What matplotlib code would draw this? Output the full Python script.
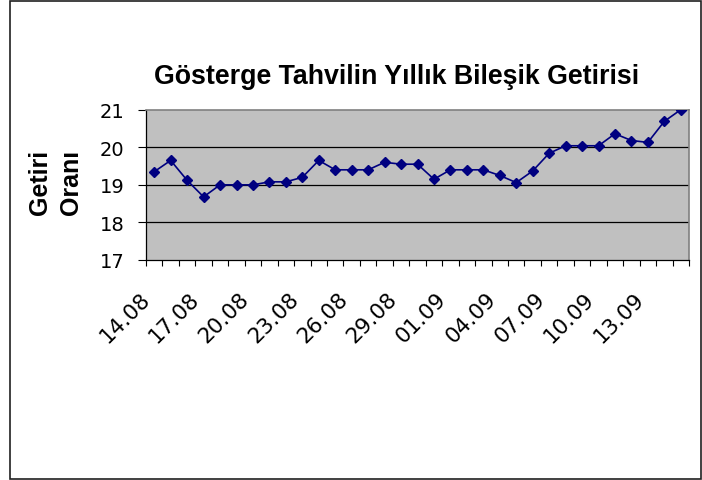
import matplotlib
matplotlib.use("Agg")
import matplotlib.pyplot as plt
from matplotlib.patches import Rectangle
from matplotlib.ticker import FixedLocator, NullFormatter

dates = ["14.08", "15.08", "16.08", "17.08", "18.08", "19.08", "20.08", "21.08",
         "22.08", "23.08", "24.08", "25.08", "26.08", "27.08", "28.08", "29.08",
         "30.08", "31.08", "01.09", "02.09", "03.09", "04.09", "05.09", "06.09",
         "07.09", "08.09", "09.09", "10.09", "11.09", "12.09", "13.09", "14.09",
         "15.09"]
values = [19.35, 19.65, 19.12, 18.68, 19.0, 19.0, 19.0, 19.08, 19.08, 19.2,
          19.65, 19.4, 19.4, 19.4, 19.6, 19.55, 19.55, 19.15, 19.4, 19.4,
          19.4, 19.25, 19.06, 19.37, 19.84, 20.04, 20.04, 20.04, 20.36, 20.18,
          20.13, 20.69, 21.0]
yticks = [17, 18, 19, 20, 21]
label_step = 3

title = "Gösterge Tahvilin Yıllık Bileşik Getirisi"
ylabel = "Getiri\nOranı"

W, H = 702, 481
fig = plt.figure(figsize=(W / 100, H / 100), dpi=100)
fig.patch.set_facecolor("white")

left, right, top, bottom = 146, 689, 110.7, 261
ax = fig.add_axes([left / W, 1 - bottom / H, (right - left) / W, (bottom - top) / H])
ax.set_facecolor("#C0C0C0")

x = list(range(len(values)))
ax.plot(x, values, color="#000080", lw=1.2, marker="D", ms=5,
        markerfacecolor="#000080", markeredgecolor="#000080", zorder=3)

ax.set_xlim(-0.5, len(values) - 0.5)
ax.set_ylim(yticks[0], yticks[-1])

# y axis
ax.set_yticks(yticks)
ax.set_yticklabels([str(t) for t in yticks], fontfamily="DejaVu Sans", fontsize=14)
ax.tick_params(axis="y", direction="out", length=6, width=0.8, pad=9.5, color="black")
for t in yticks[1:-1]:
    ax.axhline(t, color="black", lw=0.9, zorder=1)

# x axis: boundary ticks (minor), labels every 3 categories (major, no tick)
ax.xaxis.set_minor_locator(FixedLocator([i - 0.5 for i in range(len(values) + 1)]))
ax.xaxis.set_minor_formatter(NullFormatter())
major_pos = list(range(0, len(values), label_step))
ax.set_xticks(major_pos)
ax.set_xticklabels([dates[i] for i in major_pos], rotation=45, ha="right", va="top",
                   fontfamily="DejaVu Sans", fontsize=15.5)
ax.tick_params(axis="x", which="major", length=0, pad=20)
ax.tick_params(axis="x", which="minor", direction="out", length=4, width=0.8, color="black")

for s in ["left", "bottom"]:
    ax.spines[s].set_color("black")
    ax.spines[s].set_linewidth(0.9)
for s in ["top", "right"]:
    ax.spines[s].set_color("#808080")
    ax.spines[s].set_linewidth(1.2)

fig.text(397 / W, 1 - 84 / H, title, ha="center", va="baseline",
         fontfamily="Liberation Sans", fontweight="bold", fontsize=19.3)
fig.text(55.5 / W, 1 - 182 / H, ylabel, ha="center", va="center", rotation=90,
         multialignment="center", fontfamily="Liberation Sans", fontweight="bold",
         fontsize=18, linespacing=1.42)

fig.add_artist(Rectangle((9.5 / W, 0.8 / H), (700.5 - 9.5) / W, (479.5 - 0.8) / H,
                         transform=fig.transFigure, fill=False, edgecolor="#202020",
                         lw=1.2))

fig.savefig("out.png", dpi=100, facecolor="white")
